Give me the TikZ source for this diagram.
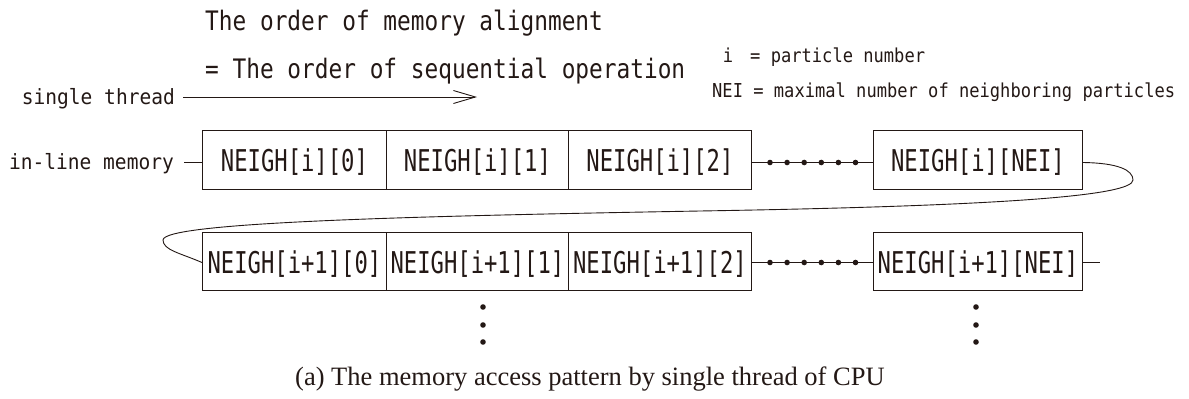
\documentclass[tikz,border=0pt]{standalone}
\usepackage{fontspec}
\setmainfont{Liberation Serif}
\newfontfamily\titlefont[FakeStretch=0.85]{DejaVu Sans Mono}
\newfontfamily\boxfont[FakeStretch=0.74]{DejaVu Sans Mono}
\newfontfamily\notefont[FakeStretch=0.89]{DejaVu Sans Mono}
\newfontfamily\lblfont[FakeStretch=0.93]{DejaVu Sans Mono}
\usetikzlibrary{arrows.meta,calc}
\definecolor{ink}{RGB}{35,24,21}

\begin{document}
\begin{tikzpicture}[x=1pt,y=-1pt,
  line/.style={draw=ink,line width=0.9pt},
  cell/.style={draw=ink,line width=0.9pt,inner sep=0pt,anchor=north west,
    text=ink,text height=24pt,text depth=0pt,
    font=\boxfont\fontsize{30}{30}\selectfont},
  row1/.style={cell,minimum height=59pt},
  row2/.style={cell,minimum height=58pt},
  title/.style={inner sep=0pt,anchor=base west,text=ink,
    font=\titlefont\fontsize{26.8}{30}\selectfont},
  note/.style={inner sep=0pt,text=ink,
    font=\notefont\fontsize{19.2}{22}\selectfont},
  lbl/.style={inner sep=0pt,anchor=base east,text=ink,
    font=\lblfont\fontsize{21}{24}\selectfont},
  dot/.style={fill=ink},
  arr/.style={line,-{Straight Barb[length=22pt,width=13pt,line width=0.9pt]}}]

\useasboundingbox (0,0) rectangle (1189,399);

% heading and legend
\node[title] (h1) at (205,30) {The order of memory alignment};
\node[title] (h2) at (205,78) {= The order of sequential operation};
\node[note,anchor=base] (ni) at (728,62) {i};
\node[note,anchor=base west] (nd1) at (750,62) {= particle number};
\node[note,anchor=base west] (nd2) at (712,97) {NEI = maximal number of neighboring particles};

% side labels
\node[lbl] (st) at (175,104) {single thread};
\node[lbl] (im) at (174,169) {in-line memory};

% first row of memory cells
\node[row1,minimum width=184pt] (b10) at (202,130) {NEIGH[i][0]};
\node[row1,minimum width=182pt] (b11) at (386,130) {NEIGH[i][1]};
\node[row1,minimum width=183pt] (b12) at (568,130) {NEIGH[i][2]};
\node[row1,minimum width=209pt] (b1n) at (873,130) {NEIGH[i][NEI]};

% second row of memory cells
\node[row2,minimum width=184pt] (b20) at (202,232) {NEIGH[i+1][0]};
\node[row2,minimum width=182pt] (b21) at (386,232) {NEIGH[i+1][1]};
\node[row2,minimum width=183pt] (b22) at (568,232) {NEIGH[i+1][2]};
\node[row2,minimum width=209pt] (b2n) at (873,232) {NEIGH[i+1][NEI]};

% attachment heights and free ends
\coordinate (r1) at (0,162.5);
\coordinate (r2) at (0,262.5);
\coordinate (tip) at (477,97);
\coordinate (tail) at (1100,262.5);

% access direction
\draw[arr] ($(st.east |- tip)+(8,0)$) -- (tip);

% connectors of the first row
\draw[line] ($(im.east |- r1)+(10,0)$) -- (b10.west |- r1);
\draw[line] (b12.east |- r1) -- (b1n.west |- r1);
\foreach \k in {0,...,5}
  \fill[dot] (770+\k*17.1,162.5) circle (2.8pt);

% wrap-around from the end of row i to the start of row i+1
\draw[line] (b1n.east |- r1) .. controls (1118,163) and (1133,170) .. (1133,180)
  .. controls (1133,196) and (1000,206) .. (700,211)
  .. controls (420,216) and (163,222) .. (163,240)
  .. controls (163,250) and (180,253) .. (b20.west |- r2);

% connectors of the second row
\draw[line] (b22.east |- r2) -- (b2n.west |- r2);
\foreach \k in {0,...,5}
  \fill[dot] (770+\k*17.1,262.5) circle (2.8pt);
\draw[line] (b2n.east |- r2) -- (tail);

% continuation below
\foreach \yy in {307,325,342} {
  \fill[dot] (483,\yy) circle (2.8pt);
  \fill[dot] (976,\yy) circle (2.8pt);
}

% caption
\node[inner sep=0pt,anchor=base west,text=ink,font=\fontsize{26.5}{30}\selectfont]
  (cap) at (295,385) {(a) The memory access pattern by single thread of CPU};
\end{tikzpicture}
\end{document}
